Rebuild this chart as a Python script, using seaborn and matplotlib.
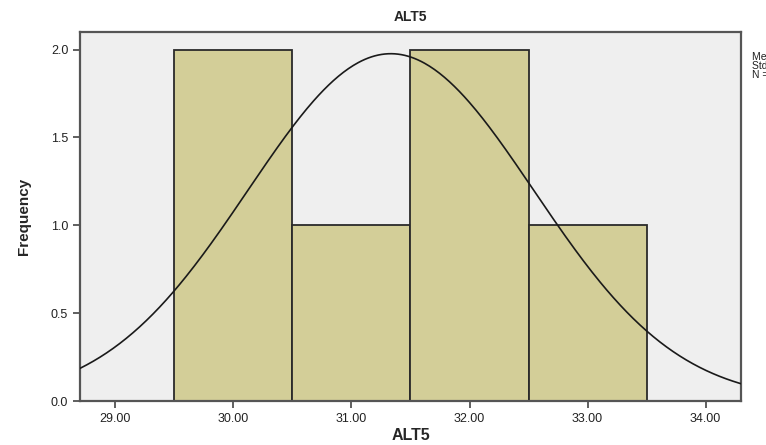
import numpy as np
import pandas as pd
import matplotlib
matplotlib.use("Agg")
import matplotlib.pyplot as plt
import seaborn as sns

# Observations of ALT5
alt5 = [30.0, 30.0, 31.0, 32.0, 32.0, 33.0]
x_ticks = [29.0, 30.0, 31.0, 32.0, 33.0, 34.0]
y_ticks = [0.0, 0.5, 1.0, 1.5, 2.0]
stats_lines = ["Mean = 31.33", "Std. Dev. = 1.211", "N = 6"]

sns.set_theme(style="ticks")
plt.rcParams["font.family"] = ["Liberation Sans", "DejaVu Sans"]

df = pd.DataFrame({"ALT5": alt5})

fig = plt.figure(figsize=(7.66, 4.45), dpi=100)
ax = fig.add_axes([80 / 766, 44 / 445, 661 / 766, 369 / 445])
ax.set_facecolor("#efefef")

sns.histplot(data=df, x="ALT5", binwidth=1.0, binrange=(29.5, 33.5),
             color="#d3ce98", alpha=1.0, edgecolor="#2a2a2a", linewidth=1.3,
             ax=ax, zorder=2)

# Normal curve scaled to the histogram counts
mean = np.mean(alt5)
sd = np.std(alt5, ddof=1)
n = len(alt5)
xs = np.linspace(28.7, 34.3, 400)
ys = n * 1.0 / (sd * np.sqrt(2 * np.pi)) * np.exp(-0.5 * ((xs - mean) / sd) ** 2)
sns.lineplot(x=xs, y=ys, color="#1a1a1a", linewidth=1.2, ax=ax, zorder=3)

ax.set_xlim(28.7, 34.3)
ax.set_ylim(0, 2.1)
ax.set_xticks(x_ticks)
ax.set_xticklabels([f"{v:.2f}" for v in x_ticks])
ax.set_yticks(y_ticks)
ax.set_yticklabels([f"{v:.1f}" for v in y_ticks])
ax.tick_params(axis="both", direction="out", length=5, width=1.2,
               color="#444444", labelsize=9, labelcolor="#222222")

for side in ["left", "right", "top", "bottom"]:
    ax.spines[side].set_visible(True)
    ax.spines[side].set_color("#555555")
    ax.spines[side].set_linewidth(1.6)

ax.set_xlabel("ALT5", fontsize=11.5, fontweight="bold", labelpad=2)
ax.set_ylabel("Frequency", fontsize=11, fontweight="bold", labelpad=14)
ax.set_title("ALT5", fontsize=10, fontweight="bold", pad=8)

fig.text(752 / 766, 1 - 52 / 445, "\n".join(stats_lines), fontsize=7.5,
         va="top", ha="left", linespacing=0.9, color="#222222")

fig.savefig("out.png", dpi=100, facecolor="white")
